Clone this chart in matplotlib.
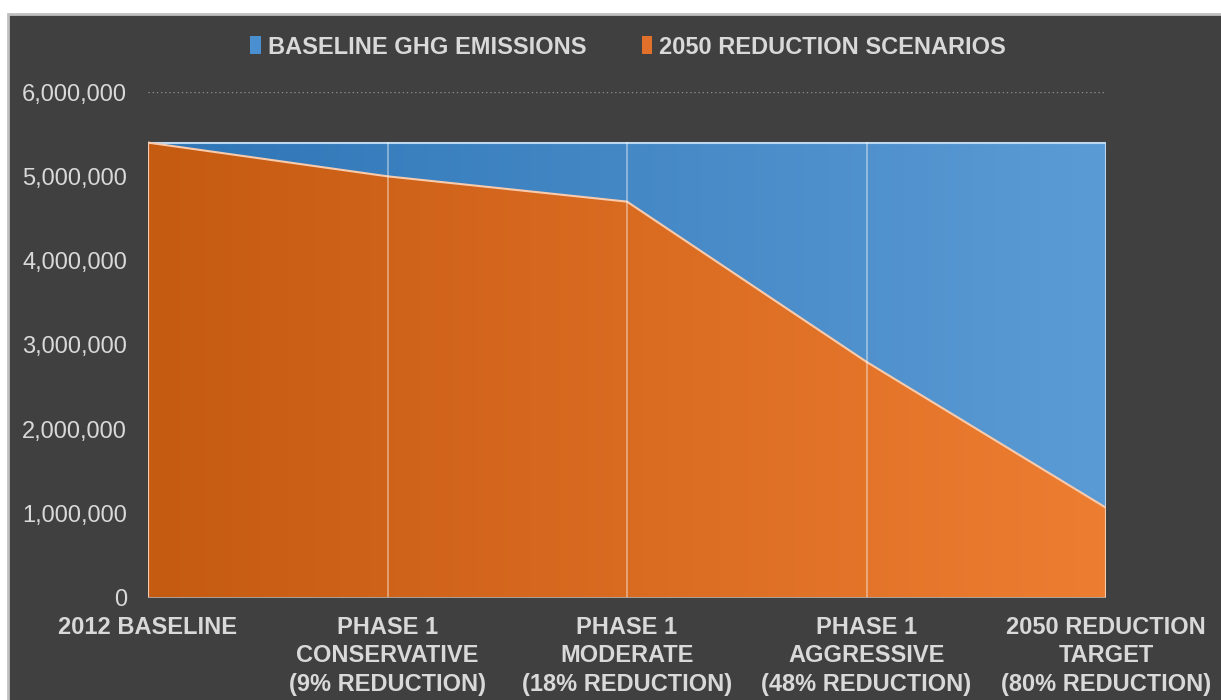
import matplotlib
matplotlib.use("Agg")
import matplotlib.pyplot as plt
import numpy as np
from matplotlib.colors import LinearSegmentedColormap
from matplotlib.patches import Rectangle, Patch
from matplotlib.ticker import FuncFormatter

plt.rcParams['font.family'] = ['Liberation Sans', 'DejaVu Sans']

# data
categories = ["2012 BASELINE",
              "PHASE 1\nCONSERVATIVE\n(9% REDUCTION)",
              "PHASE 1\nMODERATE\n(18% REDUCTION)",
              "PHASE 1\nAGGRESSIVE\n(48% REDUCTION)",
              "2050 REDUCTION\nTARGET\n(80% REDUCTION)"]
baseline = [5400000, 5400000, 5400000, 5400000, 5400000]
scenarios = [5400000, 5000000, 4700000, 2800000, 1070000]
series_names = ["BASELINE GHG EMISSIONS", "2050 REDUCTION SCENARIOS"]

txt = '#D9D9D9'
bg = '#404040'

fig = plt.figure(figsize=(12.21, 7.0), dpi=100)
fig.patch.set_facecolor('white')
# dark chart panel with light border
fig.patches.append(Rectangle((8 / 1221, -0.05), 1.1, (700 - 14) / 700 + 0.05,
                             transform=fig.transFigure, facecolor=bg,
                             edgecolor='#BFBFBF', lw=2, zorder=-5))

ax = fig.add_axes([148 / 1221, 1 - 598 / 700, (1106 - 148) / 1221, (598 - 92) / 700])
ax.set_zorder(2)
ax.set_facecolor('none')
x = np.arange(len(categories))

def gradient_area(y, c_left, c_right, edge):
    poly = ax.fill_between(x, 0, y, color='none', lw=0)
    path = poly.get_paths()[0]
    cmap = LinearSegmentedColormap.from_list('g', [c_left, c_right])
    im = ax.imshow(np.linspace(0, 1, 256).reshape(1, -1), cmap=cmap, aspect='auto',
                   extent=(x[0], x[-1], 0, 6000000), origin='lower', zorder=2,
                   interpolation='bilinear')
    im.set_clip_path(path, transform=ax.transData)
    ax.plot(np.r_[x[0], x, x[-1]], np.r_[0, y, 0], color=edge, lw=1.5, zorder=4,
            solid_joinstyle='round')

for yv in [1000000, 2000000, 3000000, 4000000, 5000000, 6000000]:
    ax.axhline(yv, color='#8C8C8C', lw=1, ls=(0, (1, 2)), zorder=1)

gradient_area(np.array(baseline), '#2E75B6', '#5B9BD5', '#BDD7EE')
gradient_area(np.array(scenarios), '#C55A11', '#ED7D31', '#F8CBAD')

for xi in x[1:-1]:
    ax.plot([xi, xi], [0, baseline[xi]], color='white', alpha=0.45, lw=1.2, zorder=5)

ax.axhline(0, color='#A6A6A6', lw=2, zorder=6)

ax.set_xlim(x[0], x[-1])
ax.set_ylim(0, 6000000)
ax.set_yticks(range(0, 6000001, 1000000))
ax.yaxis.set_major_formatter(FuncFormatter(lambda v, p: '{:,.0f}'.format(v)))
ax.set_xticks(x)
ax.set_xticklabels(categories, fontweight='bold', linespacing=1.3)
ax.tick_params(axis='y', length=0, pad=15, labelsize=17, labelcolor=txt)
ax.tick_params(axis='x', length=0, pad=13, labelsize=17, labelcolor=txt)
for s in ax.spines.values():
    s.set_visible(False)

handles = [Patch(facecolor='#4A8FD0', edgecolor='none'),
           Patch(facecolor='#E0702A', edgecolor='none')]
leg = fig.legend(handles, series_names, loc='center', bbox_to_anchor=(628 / 1221, 1 - 47 / 700),
                 ncol=2, frameon=False, handlelength=0.45, handleheight=0.8,
                 handletextpad=0.3, columnspacing=2.35,
                 prop={'weight': 'bold', 'size': 17})
for t in leg.get_texts():
    t.set_color(txt)

fig.savefig('out.png', dpi=100)
